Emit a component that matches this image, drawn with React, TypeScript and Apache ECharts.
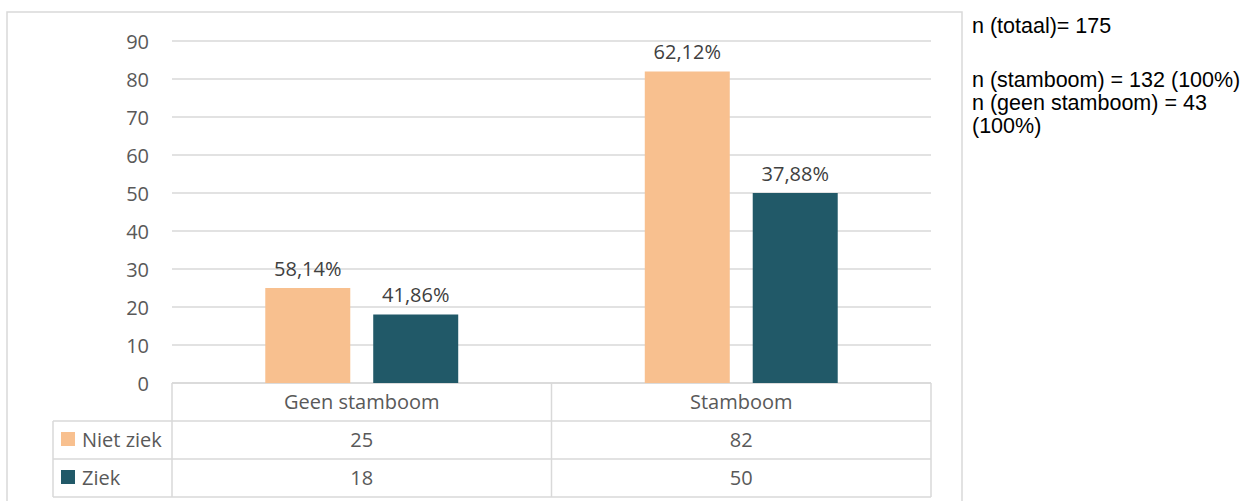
import React, { useEffect, useRef } from "react";
import * as echarts from "echarts";

// Categories and series values
const categories = ["Geen stamboom", "Stamboom"];
const nietZiek = [25, 82];
const ziek = [18, 50];
const nietZiekPct = ["58,14%", "62,12%"];
const ziekPct = ["41,86%", "37,88%"];
const seriesNames = ["Niet ziek", "Ziek"];
const yTicks = { min: 0, max: 90, interval: 10 };

// Side notes
const notes = [
  "n (totaal)= 175",
  "n (stamboom) = 132 (100%)",
  "n (geen stamboom) = 43",
  "(100%)",
];

const PEACH = "#F8C08F";
const TEAL = "#215968";
const GRID = "#d9d9d9";
const FONT = "'Open Sans', 'Noto Sans', sans-serif";

export default function App() {
  const ref = useRef<HTMLDivElement>(null);

  useEffect(() => {
    document.body.style.margin = "0";
    if (!ref.current) return;
    const chart = echarts.init(ref.current, undefined, { renderer: "svg" });

    const gl = 172;
    const gr = 931;
    const gt = 41;
    const gb = 383;
    const rowH = 38;
    const mid = (gl + gr) / 2;
    const tableLeft = 53;

    const line = (x1: number, y1: number, x2: number, y2: number) => ({
      type: "line",
      shape: { x1, y1, x2, y2 },
      style: { stroke: GRID, lineWidth: 1.5 },
      silent: true,
    });

    const noteY = [27, 81, 104, 127];

    const valueAxis = (offset: number, values: number[]) => ({
      type: "category",
      data: categories,
      position: "bottom",
      offset,
      axisLine: { show: false },
      axisTick: { show: false },
      splitLine: { show: false },
      axisLabel: {
        fontFamily: FONT,
        fontSize: 20,
        color: "#595959",
        margin: 8,
        formatter: (_v: string, i: number) => String(values[i]),
      },
    });

    const barLabel = (texts: string[]) => ({
      show: true,
      position: "top",
      distance: 10,
      fontFamily: FONT,
      fontSize: 20,
      color: "#404040",
      formatter: (p: any) => texts[p.dataIndex],
    });

    chart.setOption({
      animation: false,
      textStyle: { fontFamily: FONT },
      grid: {
        left: gl,
        right: 1255 - gr,
        top: gt,
        bottom: 501 - gb,
        containLabel: false,
      },
      legend: {
        orient: "vertical",
        left: 61,
        top: 427,
        padding: 0,
        itemWidth: 14,
        itemHeight: 14,
        itemGap: 14,
        icon: "rect",
        selectedMode: false,
        data: seriesNames,
        textStyle: {
          fontFamily: FONT,
          fontSize: 20,
          color: "#595959",
          lineHeight: 24,
          padding: [0, 0, 0, 2],
        },
      },
      xAxis: [
        {
          type: "category",
          data: categories,
          position: "bottom",
          axisLine: { show: false },
          axisTick: { show: false },
          axisLabel: {
            fontFamily: FONT,
            fontSize: 20,
            color: "#595959",
            margin: 8,
          },
        },
        valueAxis(rowH, nietZiek),
        valueAxis(rowH * 2, ziek),
      ],
      yAxis: {
        type: "value",
        min: yTicks.min,
        max: yTicks.max,
        interval: yTicks.interval,
        axisLine: { show: false },
        axisTick: { show: false },
        axisLabel: {
          fontFamily: FONT,
          fontSize: 20,
          color: "#595959",
          margin: 23,
        },
        splitLine: { lineStyle: { color: GRID, width: 1.5 } },
      },
      series: [
        {
          name: seriesNames[0],
          type: "bar",
          data: nietZiek,
          barWidth: 85,
          barGap: "27%",
          itemStyle: { color: PEACH },
          label: barLabel(nietZiekPct),
        },
        {
          name: seriesNames[1],
          type: "bar",
          data: ziek,
          barWidth: 85,
          barGap: "27%",
          itemStyle: { color: TEAL },
          label: barLabel(ziekPct),
        },
      ],
      graphic: [
        // outer chart border
        {
          type: "rect",
          shape: { x: 7, y: 12, width: 955, height: 520 },
          style: { fill: "none", stroke: GRID, lineWidth: 1.5 },
          silent: true,
          z: -1,
        },
        // data table grid
        line(gl, gb, gr, gb),
        line(tableLeft, gb + rowH, gr, gb + rowH),
        line(tableLeft, gb + rowH * 2, gr, gb + rowH * 2),
        line(tableLeft, gb + rowH * 3, gr, gb + rowH * 3),
        line(tableLeft, gb + rowH, tableLeft, gb + rowH * 3),
        line(gl, gb, gl, gb + rowH * 3),
        line(mid, gb, mid, gb + rowH * 3),
        line(gr, gb, gr, gb + rowH * 3),
        // side notes
        ...notes.map((t, i) => ({
          type: "text",
          left: 972,
          top: noteY[i] - 12,
          style: {
            text: t,
            fontFamily: "'Liberation Sans', Arial, sans-serif",
            fontSize: 21.5,
            fill: "#000000",
          },
        })),
      ],
    });

    return () => chart.dispose();
  }, []);

  return <div ref={ref} style={{ width: 1255, height: 501 }} />;
}
